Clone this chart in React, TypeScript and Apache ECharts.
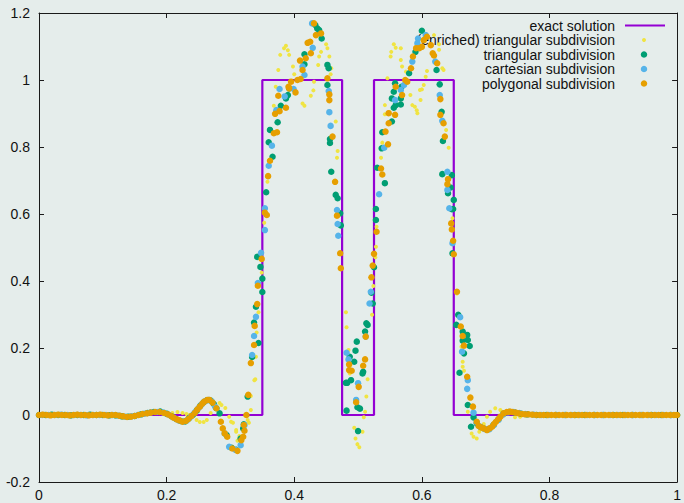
import React, { useEffect, useRef } from "react";
import * as echarts from "echarts";

type Pt = [number, number];

const NAME_EXACT = "exact solution";
const NAME_ENRICHED = "(enriched) triangular subdivision";
const NAME_TRI = "triangular subdivision";
const NAME_CART = "cartesian subdivision";
const NAME_POLY = "polygonal subdivision";

const exactSolution: Pt[] = [
  [0, 0], [0.35, 0], [0.35, 1], [0.475, 1], [0.475, 0],
  [0.525, 0], [0.525, 1], [0.65, 1], [0.65, 0], [1, 0],
];

const enrichedTriangular: Pt[] = [
  [0, 0], [0.015, 0], [0.03, 0], [0.045, 0.001], [0.06, 0], [0.075, 0], [0.09, 0], [0.105, 0],
  [0.12, -0.002], [0.135, -0.004], [0.15, -0.002], [0.165, 0.003], [0.18, 0.006], [0.195, 0.006],
  [0.209, 0.006], [0.217, 0.009], [0.225, 0.006], [0.231, 0.003], [0.236, 0], [0.247, -0.015],
  [0.252, -0.021], [0.258, -0.021], [0.263, -0.015], [0.269, 0.006], [0.277, 0.027], [0.283, 0.036],
  [0.286, 0.03], [0.292, 0.021], [0.298, -0.005], [0.301, -0.02], [0.304, -0.023], [0.309, -0.045],
  [0.309, -0.05], [0.314, -0.063], [0.311, -0.077], [0.314, -0.07], [0.327, -0.015], [0.329, -0.023],
  [0.332, 0.015], [0.332, 0.057], [0.3375, 0.104], [0.339, 0.107], [0.34, 0.174], [0.341, 0.246],
  [0.344, 0.307], [0.349, 0.425], [0.353, 0.574], [0.358, 0.696], [0.368, 0.923], [0.371, 0.98],
  [0.375, 1.03], [0.378, 1.075], [0.384, 1.095], [0.387, 1.102], [0.39, 1.089], [0.392, 1.075],
  [0.398, 1.04], [0.4, 1.017], [0.413, 0.93], [0.416, 0.923], [0.426, 0.953], [0.43, 0.969],
  [0.431, 0.995], [0.4375, 1.045], [0.439, 1.07], [0.442, 1.084], [0.45, 1.107], [0.452, 1.095],
  [0.455, 1.07], [0.458, 1.035], [0.457, 1.017], [0.465, 0.876], [0.468, 0.788], [0.467, 0.768],
  [0.481, 0.307], [0.482, 0.262], [0.485, 0.194], [0.487, 0.124], [0.494, -0.038], [0.496, -0.07],
  [0.499, -0.087], [0.502, -0.096], [0.507, -0.05], [0.509, -0.007], [0.511, 0.01], [0.513, 0.055],
  [0.515, 0.107], [0.522, 0.299], [0.524, 0.385], [0.527, 0.471], [0.528, 0.502], [0.529, 0.562],
  [0.536, 0.768], [0.538, 0.813], [0.542, 0.898], [0.542, 0.925], [0.546, 1.005], [0.551, 1.07],
  [0.552, 1.084], [0.556, 1.107], [0.559, 1.096], [0.567, 1.095], [0.567, 1.06], [0.569, 1.04],
  [0.575, 1.025], [0.582, 0.955], [0.585, 0.925], [0.589, 0.92], [0.592, 0.91], [0.593, 0.901],
  [0.597, 0.97], [0.598, 0.94], [0.6, 0.972], [0.603, 0.985], [0.606, 1.01], [0.608, 1.027],
  [0.619, 1.134], [0.627, 1.107], [0.627, 1.09], [0.632, 1.035], [0.634, 1.03], [0.638, 0.851],
  [0.642, 0.798], [0.648, 0.587], [0.655, 0.363], [0.662, 0.204], [0.664, 0.159], [0.664, 0.144],
  [0.666, 0.132], [0.672, 0.01], [0.678, -0.055], [0.681, -0.065], [0.686, -0.07], [0.69, -0.05],
  [0.697, -0.027], [0.702, -0.005], [0.707, 0.01], [0.715, 0.02], [0.723, 0.015], [0.734, 0.009],
  [0.746, -0.007], [0.754, -0.005], [0.762, 0.003], [0.775, 0.001], [0.79, 0], [0.805, 0],
  [0.82, 0], [0.835, 0], [0.85, 0], [0.865, 0], [0.88, 0], [0.895, 0], [0.91, 0], [0.925, 0],
  [0.94, 0], [0.955, 0], [0.97, 0], [0.985, 0], [1, 0],
];

const triangular: Pt[] = [
  [0, 0], [0.01, 0], [0.02, 0.001], [0.03, 0], [0.04, 0], [0.05, -0.001], [0.06, 0], [0.07, 0],
  [0.08, 0.001], [0.09, 0], [0.1, 0], [0.11, -0.001], [0.12, -0.001], [0.13, -0.004], [0.14, -0.005],
  [0.15, -0.003], [0.16, 0.002], [0.17, 0.006], [0.18, 0.009], [0.19, 0.01], [0.2, 0.004],
  [0.208, -0.004], [0.215, -0.012], [0.222, -0.018], [0.229, -0.019], [0.235, -0.01], [0.241, 0],
  [0.247, 0.013], [0.253, 0.028], [0.258, 0.038], [0.263, 0.044], [0.269, 0.043], [0.274, 0.033],
  [0.278, 0.02], [0.283, 0.005], [0.294, -0.06], [0.302, -0.098], [0.309, -0.104], [0.316, -0.07],
  [0.32, -0.04], [0.321, -0.028], [0.327, 0.055], [0.334, 0.173], [0.344, 0.215], [0.337, 0.276],
  [0.34, 0.323], [0.35, 0.367], [0.35, 0.407], [0.347, 0.442], [0.342, 0.472], [0.356, 0.665],
  [0.366, 0.771], [0.36, 0.814], [0.362, 0.851], [0.374, 0.874], [0.379, 0.923], [0.387, 0.945],
  [0.39, 0.955], [0.392, 0.975], [0.416, 1.047], [0.416, 1.077], [0.443, 1.124], [0.436, 1.154],
  [0.439, 1.149], [0.433, 1.164], [0.452, 1.045], [0.454, 1.035], [0.452, 0.985], [0.456, 0.824],
  [0.456, 0.812], [0.458, 0.726], [0.465, 0.657], [0.468, 0.647], [0.472, 0.602], [0.473, 0.566],
  [0.513, 0.274], [0.515, 0.269], [0.511, 0.249], [0.498, 0.219], [0.496, 0.192], [0.487, 0.174],
  [0.494, 0.159], [0.508, 0.129], [0.507, 0.124], [0.483, 0.096], [0.481, 0.096], [0.489, 0.104],
  [0.499, 0.023], [0.503, 0.019], [0.482, 0.013], [0.5, -0.048], [0.528, 0.615], [0.528, 0.582],
  [0.525, 0.441], [0.521, 0.365], [0.523, 0.333], [0.53, 0.738], [0.542, 0.692], [0.537, 0.796],
  [0.538, 0.844], [0.553, 0.876], [0.556, 0.917], [0.559, 0.925], [0.567, 0.927], [0.553, 0.945],
  [0.567, 0.945], [0.556, 0.965], [0.558, 0.99], [0.568, 0.98], [0.58, 1.02], [0.59, 1.084],
  [0.6, 1.147], [0.623, 1.03], [0.628, 0.987], [0.631, 0.905], [0.633, 0.818], [0.632, 0.719],
  [0.647, 0.716], [0.645, 0.679], [0.641, 0.662], [0.65, 0.642], [0.649, 0.615], [0.647, 0.614],
  [0.648, 0.483], [0.657, 0.299], [0.654, 0.269], [0.664, 0.249], [0.671, 0.239], [0.664, 0.222],
  [0.672, 0.224], [0.675, 0.206], [0.666, 0.184], [0.659, 0.126], [0.672, 0.03], [0.681, -0.007],
  [0.677, -0.035], [0.686, -0.025], [0.692, -0.036], [0.698, -0.041], [0.705, -0.042], [0.712, -0.03],
  [0.72, -0.013], [0.728, 0.004], [0.736, 0.009], [0.745, 0.008], [0.755, 0.004], [0.765, 0.002],
  [0.78, 0], [0.795, 0], [0.81, 0], [0.825, 0], [0.84, 0], [0.855, 0], [0.87, 0], [0.885, 0],
  [0.9, 0], [0.915, 0], [0.93, 0], [0.945, 0], [0.96, 0], [0.975, 0], [0.99, 0], [1, 0],
];

const cartesian: Pt[] = [
  [0.005, 0], [0.015, 0], [0.025, 0], [0.035, 0.001], [0.045, 0], [0.055, 0], [0.065, 0],
  [0.075, -0.001], [0.085, 0], [0.095, 0], [0.105, 0], [0.115, 0], [0.125, -0.002], [0.135, -0.005],
  [0.145, -0.004], [0.155, 0], [0.165, 0.004], [0.175, 0.008], [0.185, 0.009], [0.195, 0.007],
  [0.204, 0], [0.212, -0.009], [0.219, -0.016], [0.226, -0.02], [0.232, -0.016], [0.238, -0.005],
  [0.244, 0.007], [0.25, 0.021], [0.255, 0.032], [0.26, 0.041], [0.266, 0.045], [0.271, 0.04],
  [0.276, 0.025], [0.291, -0.055], [0.298, -0.095], [0.308, -0.104], [0.316, -0.09], [0.322, -0.03],
  [0.334, 0.179], [0.337, 0.236], [0.34, 0.293], [0.343, 0.394], [0.348, 0.484], [0.354, 0.552],
  [0.354, 0.617], [0.36, 0.744], [0.365, 0.804], [0.372, 0.91], [0.385, 0.951], [0.377, 0.973],
  [0.399, 0.973], [0.416, 1.015], [0.413, 1.04], [0.429, 1.096], [0.428, 1.169], [0.454, 0.967],
  [0.455, 0.904], [0.457, 0.863], [0.467, 0.612], [0.468, 0.57], [0.469, 0.535], [0.482, 0.186],
  [0.485, 0.166], [0.5, 0.095], [0.497, 0.045], [0.512, 0.234], [0.52, 0.368], [0.518, 0.333],
  [0.533, 0.659], [0.541, 0.798], [0.558, 0.94], [0.567, 0.97], [0.572, 0.985], [0.585, 1.055],
  [0.593, 1.11], [0.594, 1.124], [0.606, 1.134], [0.621, 1.055], [0.628, 0.955], [0.632, 0.878],
  [0.64, 0.726], [0.64, 0.672], [0.643, 0.617], [0.648, 0.513], [0.66, 0.292], [0.663, 0.189],
  [0.672, 0.104], [0.671, 0.078], [0.681, 0.007], [0.686, -0.022], [0.692, -0.035], [0.699, -0.042],
  [0.706, -0.042], [0.713, -0.03], [0.72, -0.015], [0.727, 0.001], [0.735, 0.008], [0.744, 0.009],
  [0.753, 0.006], [0.762, 0.003], [0.775, 0.001], [0.787, 0], [0.799, 0], [0.811, 0], [0.823, 0],
  [0.835, 0], [0.847, 0], [0.859, 0], [0.871, 0], [0.883, 0], [0.895, 0], [0.907, 0], [0.919, 0],
  [0.931, 0], [0.943, 0], [0.955, 0], [0.967, 0], [0.979, 0], [0.991, 0],
];

const polygonal: Pt[] = [
  [0, 0], [0.006, 0.001], [0.012, 0], [0.018, -0.001], [0.024, 0], [0.03, 0.001], [0.036, 0],
  [0.042, 0], [0.048, -0.001], [0.054, 0], [0.06, 0.001], [0.066, 0], [0.072, 0], [0.078, -0.001],
  [0.084, 0], [0.09, 0], [0.096, 0.001], [0.102, 0], [0.108, -0.001], [0.114, 0], [0.12, 0],
  [0.126, -0.002], [0.132, -0.004], [0.138, -0.006], [0.144, -0.005], [0.15, -0.003], [0.156, 0],
  [0.162, 0.003], [0.169, 0.005], [0.175, 0.007], [0.182, 0.009], [0.189, 0.009], [0.196, 0.006],
  [0.202, 0.002], [0.207, -0.003], [0.211, -0.008], [0.216, -0.013], [0.22, -0.016], [0.225, -0.02],
  [0.23, -0.018], [0.234, -0.012], [0.239, -0.003], [0.244, 0.006], [0.248, 0.016], [0.252, 0.025],
  [0.256, 0.034], [0.259, 0.04], [0.264, 0.045], [0.267, 0.045], [0.272, 0.037], [0.278, 0.02],
  [0.285, -0.02], [0.288, -0.04], [0.291, -0.055], [0.295, -0.065], [0.303, -0.1], [0.311, -0.107],
  [0.317, -0.075], [0.32, -0.065], [0.322, -0.047], [0.321, -0.03], [0.325, 0], [0.328, 0.06],
  [0.332, 0.155], [0.337, 0.209], [0.338, 0.266], [0.342, 0.331], [0.343, 0.386], [0.349, 0.466],
  [0.357, 0.597], [0.354, 0.604], [0.359, 0.713], [0.362, 0.759], [0.368, 0.841], [0.373, 0.844],
  [0.37, 0.899], [0.377, 0.907], [0.375, 0.953], [0.387, 0.917], [0.391, 0.98], [0.392, 0.975],
  [0.395, 0.995], [0.402, 0.963], [0.405, 1.0], [0.41, 1.003], [0.413, 1.03], [0.409, 1.058],
  [0.418, 1.065], [0.421, 1.111], [0.425, 1.114], [0.426, 1.08], [0.434, 1.134], [0.442, 1.139],
  [0.431, 1.169], [0.452, 1.005], [0.455, 0.957], [0.455, 0.94], [0.46, 0.831], [0.464, 0.696],
  [0.467, 0.595], [0.472, 0.483], [0.473, 0.438], [0.512, 0.234], [0.511, 0.166], [0.508, 0.147],
  [0.486, 0.151], [0.486, 0.134], [0.49, 0.132], [0.501, 0.084], [0.497, 0.038], [0.521, 0.411],
  [0.523, 0.446], [0.525, 0.481], [0.529, 0.547], [0.536, 0.736], [0.538, 0.718], [0.547, 0.808],
  [0.543, 0.846], [0.548, 0.871], [0.548, 0.901], [0.558, 0.896], [0.559, 0.98], [0.569, 0.955],
  [0.574, 1.0], [0.577, 0.995], [0.583, 1.035], [0.586, 1.07], [0.591, 1.095], [0.596, 1.095],
  [0.6, 1.099], [0.603, 1.119], [0.608, 1.129], [0.614, 1.104], [0.617, 1.08], [0.619, 1.073],
  [0.624, 1.05], [0.629, 0.943], [0.629, 0.896], [0.634, 0.871], [0.636, 0.831], [0.641, 0.704],
  [0.64, 0.689], [0.646, 0.572], [0.647, 0.554], [0.649, 0.52], [0.65, 0.48], [0.655, 0.368],
  [0.661, 0.264], [0.664, 0.236], [0.666, 0.207], [0.671, 0.114], [0.676, 0.052], [0.68, 0.025],
  [0.686, -0.02], [0.689, -0.033], [0.693, -0.037], [0.697, -0.04], [0.702, -0.045], [0.706, -0.04],
  [0.71, -0.035], [0.713, -0.027], [0.716, -0.02], [0.72, -0.012], [0.723, -0.005], [0.728, 0.005],
  [0.733, 0.009], [0.738, 0.01], [0.742, 0.009], [0.747, 0.007], [0.752, 0.005], [0.757, 0.003],
  [0.762, 0.002], [0.767, 0.002], [0.773, 0.001], [0.779, 0], [0.785, 0], [0.791, 0], [0.797, 0],
  [0.803, 0], [0.809, 0], [0.815, 0], [0.821, 0], [0.827, 0], [0.833, 0], [0.839, 0], [0.845, 0],
  [0.851, 0], [0.857, 0], [0.863, 0], [0.869, 0], [0.875, 0], [0.881, 0], [0.887, 0], [0.893, 0],
  [0.899, 0], [0.905, 0], [0.911, 0], [0.917, 0], [0.923, 0], [0.929, 0], [0.935, 0], [0.941, 0],
  [0.947, 0], [0.953, 0], [0.959, 0], [0.965, 0], [0.971, 0], [0.977, 0], [0.983, 0], [0.989, 0],
  [0.995, 0], [1, 0],
];

const X_TICK_STEP = 0.2;
const Y_TICK_STEP = 0.2;

const BG = "#e5edeb";
const FONT = "'Liberation Sans', Arial, sans-serif";
const AXIS_COLOR = "#1a1a1a";
const TEXT_COLOR = "#111";

const COLOR_EXACT = "#9400d3";
const COLOR_ENRICHED = "#f0e442";
const COLOR_TRI = "#009e73";
const COLOR_CART = "#56b4e9";
const COLOR_POLY = "#e69f00";

const fmt = (v: number) => String(parseFloat(v.toFixed(1)));

export default function App() {
  const ref = useRef<HTMLDivElement>(null);

  useEffect(() => {
    document.body.style.margin = "0";
    if (!ref.current) return;
    const chart = echarts.init(ref.current, undefined, { renderer: "svg" });

    const axisCommon = {
      type: "value" as const,
      axisLine: { show: true, onZero: false, lineStyle: { color: AXIS_COLOR, width: 1 } },
      axisTick: { show: true, inside: true, length: 5, lineStyle: { color: AXIS_COLOR } },
      splitLine: { show: false },
    };
    const labelStyle = { color: TEXT_COLOR, fontFamily: FONT, fontSize: 14 };

    // Legend drawn gnuplot-style: right-aligned text, key sample to its right.
    const legendEntries = [
      { name: NAME_EXACT, color: COLOR_EXACT, kind: "line", r: 0 },
      { name: NAME_ENRICHED, color: COLOR_ENRICHED, kind: "dot", r: 2 },
      { name: NAME_TRI, color: COLOR_TRI, kind: "dot", r: 3.25 },
      { name: NAME_CART, color: COLOR_CART, kind: "dot", r: 3.25 },
      { name: NAME_POLY, color: COLOR_POLY, kind: "dot", r: 3.25 },
    ];
    const LEG_TEXT_RIGHT = 615;
    const LEG_KEY_LEFT = 625;
    const LEG_KEY_RIGHT = 665;
    const LEG_TOP = 25.5;
    const LEG_STEP = 14.5;
    const legendGraphics: any[] = [];
    legendEntries.forEach((e, i) => {
      const cy = LEG_TOP + i * LEG_STEP;
      legendGraphics.push({
        type: "text",
        x: LEG_TEXT_RIGHT,
        y: cy,
        silent: true,
        style: {
          text: e.name,
          fill: TEXT_COLOR,
          font: `14px ${FONT}`,
          align: "right",
          verticalAlign: "middle",
        },
      });
      if (e.kind === "line") {
        legendGraphics.push({
          type: "line",
          silent: true,
          shape: { x1: LEG_KEY_LEFT, y1: cy, x2: LEG_KEY_RIGHT, y2: cy },
          style: { stroke: e.color, lineWidth: 2.2 },
        });
      } else {
        legendGraphics.push({
          type: "circle",
          silent: true,
          shape: { cx: (LEG_KEY_LEFT + LEG_KEY_RIGHT) / 2 - 1, cy, r: e.r },
          style: { fill: e.color },
        });
      }
    });

    chart.setOption({
      animation: false,
      backgroundColor: BG,
      grid: { left: 39, right: 3, top: 13, bottom: 21, containLabel: false },
      xAxis: [
        {
          ...axisCommon,
          min: 0,
          max: 1,
          interval: X_TICK_STEP,
          position: "bottom",
          axisLabel: { ...labelStyle, margin: 6, formatter: fmt },
        },
        {
          ...axisCommon,
          min: 0,
          max: 1,
          interval: X_TICK_STEP,
          position: "top",
          axisLabel: { show: false },
        },
      ],
      yAxis: [
        {
          ...axisCommon,
          min: -0.2,
          max: 1.2,
          interval: Y_TICK_STEP,
          position: "left",
          axisLabel: { ...labelStyle, margin: 9, formatter: fmt },
        },
        {
          ...axisCommon,
          min: -0.2,
          max: 1.2,
          interval: Y_TICK_STEP,
          position: "right",
          axisLabel: { show: false },
        },
      ],
      graphic: legendGraphics,
      series: [
        {
          name: NAME_EXACT,
          type: "line",
          data: exactSolution,
          showSymbol: false,
          symbol: "none",
          color: COLOR_EXACT,
          lineStyle: { color: COLOR_EXACT, width: 2.2 },
          z: 2,
        },
        {
          name: NAME_ENRICHED,
          type: "scatter",
          data: enrichedTriangular,
          symbolSize: 4,
          itemStyle: { color: COLOR_ENRICHED, opacity: 1 },
          z: 3,
        },
        {
          name: NAME_TRI,
          type: "scatter",
          data: triangular,
          symbolSize: 6.5,
          itemStyle: { color: COLOR_TRI, opacity: 1 },
          z: 3,
        },
        {
          name: NAME_CART,
          type: "scatter",
          data: cartesian,
          symbolSize: 6.5,
          itemStyle: { color: COLOR_CART, opacity: 1 },
          z: 3,
        },
        {
          name: NAME_POLY,
          type: "scatter",
          data: polygonal,
          symbolSize: 6.5,
          itemStyle: { color: COLOR_POLY, opacity: 1 },
          z: 3,
        },
      ],
    });

    return () => chart.dispose();
  }, []);

  return (
    <div
      ref={ref}
      style={{ position: "fixed", left: 0, top: 0, width: 684, height: 503, background: BG }}
    />
  );
}
